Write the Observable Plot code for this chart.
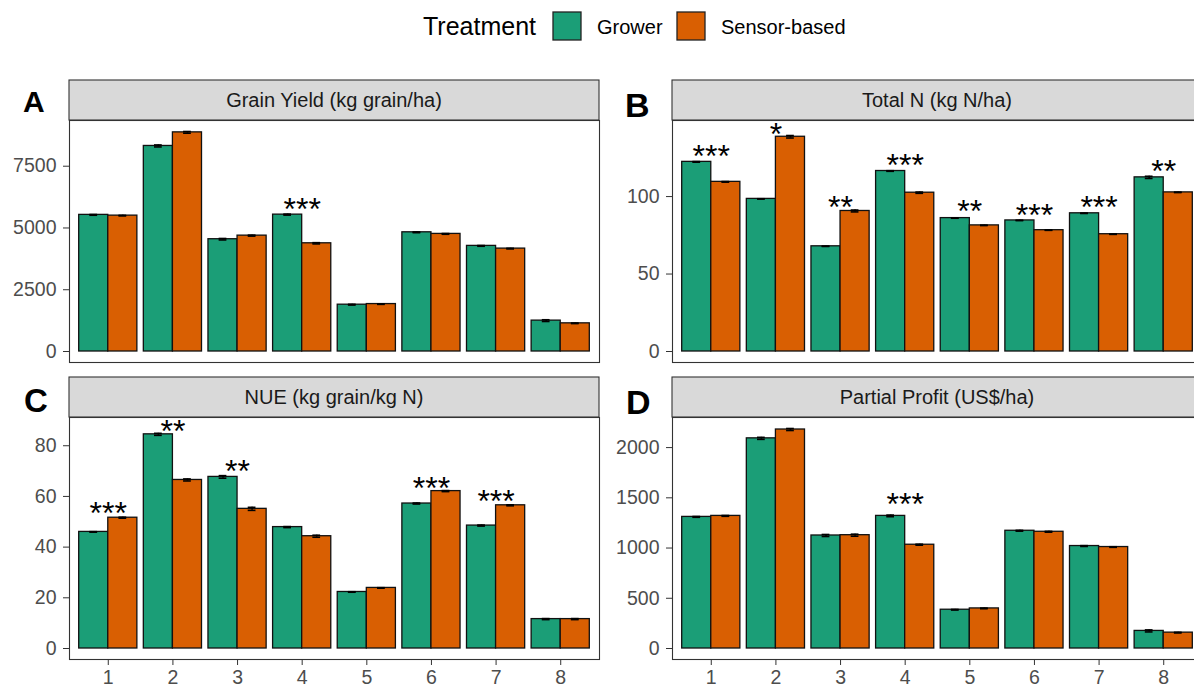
<!DOCTYPE html>
<html>
<head>
<meta charset="utf-8">
<script src="https://cdn.jsdelivr.net/npm/d3@7"></script>
<script src="https://cdn.jsdelivr.net/npm/@observablehq/plot@0.6"></script>
<style>
html, body { margin: 0; padding: 0; width: 1194px; height: 687px; overflow: hidden; background: #fff; }
#root { position: relative; width: 1194px; height: 687px; overflow: hidden; font-family: "Liberation Sans", Arial, sans-serif; }
#root svg.panel { position: absolute; overflow: visible; }
g[aria-label="y-axis tick"], g[aria-label="x-axis tick"] { stroke: #333333; }
g[aria-label="y-axis tick label"], g[aria-label="x-axis tick label"] { fill: #4D4D4D; }
</style>
</head>
<body>
<div id="root"></div>
<script>
// ---------- data ----------
const categories = ["1", "2", "3", "4", "5", "6", "7", "8"];
const treatments = ["Grower", "Sensor-based"];
const treatmentColors = ["#1B9E77", "#D95F02"];

const panelTitles = ["Grain Yield (kg grain/ha)", "Total N (kg N/ha)", "NUE (kg grain/kg N)", "Partial Profit (US$/ha)"];
const panelLetters = ["A", "B", "C", "D"];

// Grain yield (kg grain/ha)
const yieldGrower = [5530, 8320, 4545, 5540, 1895, 4825, 4275, 1250];
const yieldSensor = [5500, 8870, 4690, 4380, 1920, 4760, 4165, 1140];
const yieldSeGrower = [15, 40, 30, 20, 15, 15, 15, 35];
const yieldSeSensor = [10, 35, 20, 25, 12, 15, 12, 10];
const yieldStars = ["", "", "", "***", "", "", "", ""];
const yieldStarY = [null, null, null, 5850, null, null, null, null];
const yieldTicks = [0, 2500, 5000, 7500];

// Total N (kg N/ha)
const totalNGrower = [122.4, 98.5, 67.9, 116.5, 86.1, 84.6, 89.2, 112.4];
const totalNSensor = [109.5, 138.6, 90.7, 102.5, 81.4, 78.3, 75.7, 102.7];
const totalNSeGrower = [0.2, 0.1, 0.1, 0.2, 0.1, 0.1, 0.1, 0.7];
const totalNSeSensor = [0.2, 0.8, 0.6, 0.4, 0.1, 0.1, 0.1, 0.1];
const totalNStars = ["***", "*", "**", "***", "**", "***", "***", "**"];
const totalNStarY = [127.6, 142, 95, 121.7, 92.2, 89.7, 95, 117.7];
const totalNTicks = [0, 50, 100];

// NUE (kg grain/kg N)
const nueGrower = [46.0, 84.5, 67.7, 47.9, 22.3, 57.2, 48.5, 11.6];
const nueSensor = [51.6, 66.5, 55.1, 44.3, 23.9, 62.1, 56.5, 11.6];
const nueSeGrower = [0.1, 0.4, 0.5, 0.2, 0.1, 0.2, 0.2, 0.2];
const nueSeSensor = [0.2, 0.4, 0.6, 0.4, 0.1, 0.2, 0.2, 0.2];
const nueStars = ["***", "**", "**", "", "", "***", "***", ""];
const nueStarY = [54.2, 86.8, 70.8, null, null, 64.3, 59.2, null];
const nueTicks = [0, 20, 40, 60, 80];

// Partial profit (US$/ha)
const profitGrower = [1310, 2092, 1125, 1320, 386, 1172, 1020, 175];
const profitSensor = [1320, 2180, 1128, 1033, 399, 1162, 1010, 158];
const profitSeGrower = [4, 10, 10, 8, 3, 4, 4, 10];
const profitSeSensor = [4, 10, 10, 5, 3, 4, 3, 3];
const profitStars = ["", "", "", "***", "", "", "", ""];
const profitStarY = [null, null, null, 1459, null, null, null, null];
const profitTicks = [0, 500, 1000, 1500, 2000];

// ---------- layout ----------
const root = document.getElementById("root");
const PW = 530, PH = 242;
const dodge = 0.45, cap = 0.06;

function buildRows(g, s, seG, seS) {
  const rows = [];
  categories.forEach((c, i) => {
    const k = i + 1;
    rows.push({k, t: treatments[0], v: g[i], se: seG[i], x1: k - dodge, x2: k});
    rows.push({k, t: treatments[1], v: s[i], se: seS[i], x1: k, x2: k + dodge});
  });
  return rows;
}

function panel({g, s, seG, seS, stars, starY, ticks, left, top, bottom}) {
  const rows = buildRows(g, s, seG, seS);
  const maxV = d3.max(rows, d => d.v + d.se);
  const topV = Math.max(maxV, d3.max(starY.filter(v => v != null)) || 0);
  const yDomain = [-0.05 * topV, 1.05 * topV];
  const starRows = categories.map((c, i) => ({k: i + 1, label: stars[i], y: starY[i]})).filter(d => d.label);
  const mb = bottom ? 30 : 2;
  const marks = [
    Plot.rect(rows, {x1: "x1", x2: "x2", y1: 0, y2: "v", fill: "t", stroke: "#111", strokeWidth: 1.3}),
    Plot.ruleX(rows, {x: d => (d.x1 + d.x2) / 2, y1: d => d.v - d.se, y2: d => d.v + d.se, stroke: "#000", strokeWidth: 1.6}),
    Plot.ruleY(rows, {y: d => d.v + d.se, x1: d => (d.x1 + d.x2) / 2 - cap, x2: d => (d.x1 + d.x2) / 2 + cap, stroke: "#000", strokeWidth: 1.6}),
    Plot.ruleY(rows, {y: d => d.v - d.se, x1: d => (d.x1 + d.x2) / 2 - cap, x2: d => (d.x1 + d.x2) / 2 + cap, stroke: "#000", strokeWidth: 1.6}),
    Plot.text(starRows, {x: "k", y: "y", text: "label", fontSize: 32, dy: 3, fill: "#000", fontFamily: "Liberation Sans, Arial, sans-serif"}),
    Plot.frame({stroke: "#333333", strokeWidth: 1.1}),
    Plot.axisY({ticks, tickFormat: d => String(d), tickSize: 6, tickPadding: 7, fontSize: 19.5, stroke: "#333333", fill: "#4D4D4D"})
  ];
  if (bottom) {
    marks.push(Plot.axisX({ticks: categories.map((c, i) => i + 1), tickFormat: d => categories[d - 1], tickSize: 6, tickPadding: 5, fontSize: 19.5, stroke: "#333333", fill: "#4D4D4D"}));
  }
  const svg = Plot.plot({
    width: 69 + PW + 2,
    height: 2 + PH + mb,
    marginLeft: 69, marginRight: 2, marginTop: 2, marginBottom: mb,
    x: {domain: [0.4, 8.6], axis: bottom ? undefined : null},
    y: {domain: yDomain},
    color: {domain: treatments, range: treatmentColors},
    style: {fontFamily: "Liberation Sans, Arial, sans-serif", fontSize: "19.5px", background: "transparent", color: "#4D4D4D"},
    marks
  });
  svg.classList.add("panel");
  svg.style.left = (left - 69) + "px";
  svg.style.top = (top - 2) + "px";
  root.appendChild(svg);
}

const LX = 69, RX = 672, TY = 120, BY = 417;
panel({g: yieldGrower, s: yieldSensor, seG: yieldSeGrower, seS: yieldSeSensor, stars: yieldStars, starY: yieldStarY, ticks: yieldTicks, left: LX, top: TY, bottom: false});
panel({g: totalNGrower, s: totalNSensor, seG: totalNSeGrower, seS: totalNSeSensor, stars: totalNStars, starY: totalNStarY, ticks: totalNTicks, left: RX, top: TY, bottom: false});
panel({g: nueGrower, s: nueSensor, seG: nueSeGrower, seS: nueSeSensor, stars: nueStars, starY: nueStarY, ticks: nueTicks, left: LX, top: BY, bottom: true});
panel({g: profitGrower, s: profitSensor, seG: profitSeGrower, seS: profitSeSensor, stars: profitStars, starY: profitStarY, ticks: profitTicks, left: RX, top: BY, bottom: true});

// ---------- overlay: strips, panel letters, legend ----------
const ov = d3.select(root).append("svg")
  .attr("width", 1194).attr("height", 687)
  .style("position", "absolute").style("left", "0px").style("top", "0px")
  .style("font-family", "Liberation Sans, Arial, sans-serif");

const strips = [
  {x: LX, y: 80, t: panelTitles[0]},
  {x: RX, y: 80, t: panelTitles[1]},
  {x: LX, y: 377, t: panelTitles[2]},
  {x: RX, y: 377, t: panelTitles[3]}
];
strips.forEach(s => {
  ov.append("rect").attr("x", s.x).attr("y", s.y).attr("width", PW).attr("height", 40)
    .attr("fill", "#D9D9D9").attr("stroke", "#333333").attr("stroke-width", 1.1);
  ov.append("text").attr("x", s.x + PW / 2).attr("y", s.y + 20).attr("dy", "0.35em")
    .attr("text-anchor", "middle").attr("font-size", 20).attr("fill", "#1A1A1A").text(s.t);
});

const letters = [
  {x: 23, y: 112, size: 30, t: panelLetters[0]},
  {x: 625, y: 117, size: 34, t: panelLetters[1]},
  {x: 24, y: 412, size: 33, t: panelLetters[2]},
  {x: 626, y: 414, size: 34, t: panelLetters[3]}
];
letters.forEach(l => {
  ov.append("text").attr("x", l.x).attr("y", l.y).attr("font-size", l.size)
    .attr("font-weight", "bold").attr("fill", "#000").text(l.t);
});

// legend
ov.append("text").attr("x", 423).attr("y", 35).attr("font-size", 25).attr("fill", "#000").text("Treatment");
const keys = [{x: 553, tx: 597}, {x: 677, tx: 721}];
keys.forEach((k, i) => {
  ov.append("rect").attr("x", k.x).attr("y", 12).attr("width", 28).attr("height", 28)
    .attr("fill", treatmentColors[i]).attr("stroke", "#222").attr("stroke-width", 1.3);
  ov.append("text").attr("x", k.tx).attr("y", 33.5).attr("font-size", 20).attr("fill", "#000").text(treatments[i]);
});
</script>
</body>
</html>
